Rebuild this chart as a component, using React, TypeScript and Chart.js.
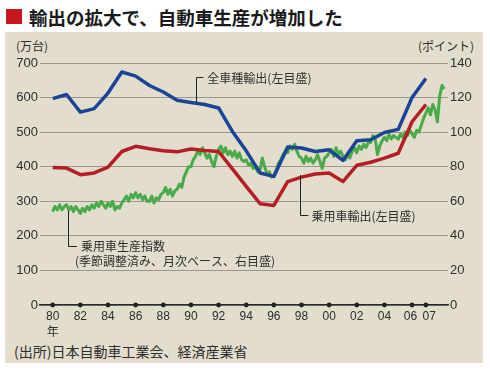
import React, { useEffect, useRef } from "react";
import { Chart, registerables } from "chart.js";

Chart.register(...registerables);

// ---- data ----
const years = [
  1980, 1981, 1982, 1983, 1984, 1985, 1986, 1987, 1988, 1989,
  1990, 1991, 1992, 1993, 1994, 1995, 1996, 1997, 1998, 1999,
  2000, 2001, 2002, 2003, 2004, 2005, 2006, 2007,
];
// 全車種輸出 (万台, left axis)
const allVehicleExports = [
  597, 609, 558, 568, 613, 674, 662, 635, 616, 592,
  586, 580, 570, 502, 446, 382, 372, 457, 454, 444,
  449, 418, 475, 478, 499, 508, 600, 655,
];
// 乗用車輸出 (万台, left axis)
const passengerCarExports = [
  398, 396, 377, 382, 399, 444, 459, 452, 446, 443,
  451, 447, 444, 394, 343, 293, 288, 357, 370, 379,
  382, 357, 404, 413, 425, 439, 530, 580,
];
// 乗用車生産指数 (right axis), six readings per year from 1980
const productionIndexStart = 1980;
const productionIndexPerYear = 6;
const productionIndex = [
  54, 57, 55, 58, 55, 57, // 1980
  58, 55, 57, 54, 57, 55, // 1981
  53, 56, 54, 57, 55, 58, // 1982
  56, 59, 57, 60, 58, 56, // 1983
  59, 57, 60, 55, 57, 56, // 1984
  59, 61, 63, 60, 64, 62, // 1985
  65, 62, 64, 61, 63, 60, // 1986
  60, 63, 59, 62, 61, 64, // 1987
  65, 68, 64, 67, 63, 66, // 1988
  67, 70, 68, 74, 77, 80, // 1989
  80, 84, 86, 89, 87, 91, // 1990
  88, 85, 87, 83, 80, 86, // 1991
  90, 92, 88, 91, 87, 89, // 1992
  86, 89, 85, 88, 84, 83, // 1993
  84, 81, 82, 79, 80, 77, // 1994
  78, 85, 80, 76, 77, 74, // 1995
  75, 78, 82, 84, 87, 89, // 1996
  88, 92, 90, 93, 89, 86, // 1997
  85, 82, 86, 83, 85, 82, // 1998
  84, 87, 83, 79, 85, 86, // 1999
  88, 90, 86, 91, 87, 89, // 2000
  86, 84, 87, 85, 89, 91, // 2001
  88, 92, 90, 93, 91, 94, // 2002
  94, 98, 96, 87, 92, 95, // 2003
  97, 95, 99, 96, 98, 97, // 2004
  96, 99, 97, 100, 98, 101, // 2005
  99, 97, 101, 100, 104, 108, // 2006
  111, 114, 110, 116, 113, 106, // 2007
  121, 127, 125, // 2008
];
const xTickYears = [
  1980, 1982, 1984, 1986, 1988, 1990, 1992, 1994, 1996, 1998,
  2000, 2002, 2004, 2006, 2007,
];
const leftAxisMax = 700;
const leftAxisStep = 100;
const rightAxisMax = 140;
const rightAxisStep = 20;

// ---- texts ----
const titleText = "輸出の拡大で、自動車生産が増加した";
const leftUnit = "(万台)";
const rightUnit = "(ポイント)";
const sourceText = "(出所)日本自動車工業会、経済産業省";
const yearSuffix = "年";
const labelAll = "全車種輸出(左目盛)";
const labelCar = "乗用車輸出(左目盛)";
const labelProd1 = "乗用車生産指数";
const labelProd2 = "(季節調整済み、月次ベース、右目盛)";

// ---- styles ----
const BLUE = "rgb(28,68,150)";
const RED = "rgb(182,30,38)";
const GREEN = "rgb(72,170,72)";
const PANEL = "rgb(227,221,205)";
const TEXT = "#2e2e2e";
const CJK = '"Noto Sans CJK JP", "Noto Sans", sans-serif';
const NUM = '"Liberation Sans", Arial, sans-serif';

const annotationPlugin = {
  id: "callouts",
  afterDatasetsDraw(chart: any) {
    const { ctx } = chart;
    const x = chart.scales.x;
    const y = chart.scales.y;
    const px = (v: number) => x.getPixelForValue(v);
    const py = (v: number) => y.getPixelForValue(v);
    ctx.save();
    ctx.strokeStyle = "#222";
    ctx.lineWidth = 1;
    ctx.fillStyle = TEXT;
    ctx.font = `12px ${CJK}`;
    ctx.textBaseline = "middle";
    ctx.textAlign = "left";

    const leader = (xv: number, y0: number, y1: number, x1: number) => {
      const X = Math.round(px(xv)) + 0.5;
      const Y1 = Math.round(py(y1)) + 0.5;
      ctx.beginPath();
      ctx.moveTo(X, py(y0));
      ctx.lineTo(X, Y1);
      ctx.lineTo(px(x1), Y1);
      ctx.stroke();
      return Y1;
    };

    // 全車種輸出
    let ly = leader(1990.35, 587, 659, 1990.9);
    ctx.fillText(labelAll, px(1990.9) + 4, ly + 0.5);

    // 乗用車輸出
    ly = leader(1997.9, 376, 259, 1998.5);
    ctx.fillText(labelCar, px(1998.5) + 3, ly + 0.5);

    // 乗用車生産指数
    ly = leader(1981.13, 272, 170, 1981.75);
    ctx.fillText(labelProd1, px(1981.75) + 4, ly);
    ctx.fillText(labelProd2, px(1981.75) - 2, ly + 14.5);

    ctx.restore();
  },
  afterDraw(chart: any) {
    const { ctx, chartArea } = chart;
    const x = chart.scales.x;
    ctx.save();
    ctx.fillStyle = "#222";
    xTickYears.forEach((v) => {
      ctx.beginPath();
      ctx.arc(x.getPixelForValue(v), chartArea.bottom, 2.4, 0, Math.PI * 2);
      ctx.fill();
    });
    ctx.restore();
  },
};

function ChartCanvas() {
  const ref = useRef<HTMLCanvasElement | null>(null);
  useEffect(() => {
    if (!ref.current) return;
    const chart = new Chart(ref.current, {
      type: "line",
      data: {
        datasets: [
          {
            label: "全車種輸出",
            data: years.map((yr, i) => ({ x: yr, y: allVehicleExports[i] })),
            borderColor: BLUE,
            borderWidth: 3.5,
            pointRadius: 0,
            yAxisID: "y",
            order: 1,
            borderJoinStyle: "round",
          },
          {
            label: "乗用車輸出",
            data: years.map((yr, i) => ({ x: yr, y: passengerCarExports[i] })),
            borderColor: RED,
            borderWidth: 3.5,
            pointRadius: 0,
            yAxisID: "y",
            order: 2,
            borderJoinStyle: "round",
          },
          {
            label: "乗用車生産指数",
            data: productionIndex.map((v, i) => ({
              x: productionIndexStart + i / productionIndexPerYear,
              y: v,
            })),
            borderColor: GREEN,
            borderWidth: 3,
            pointRadius: 0,
            yAxisID: "y1",
            order: 3,
            borderJoinStyle: "round",
          },
        ],
      },
      options: {
        responsive: false,
        animation: false,
        layout: { padding: { top: 63, left: 0, right: 0, bottom: 0 } },
        plugins: { legend: { display: false }, tooltip: { enabled: false } },
        scales: {
          x: {
            type: "linear",
            min: 1979.08,
            max: 2008.6,
            grid: { display: false, drawTicks: false },
            border: { display: true, color: "#2a2a2a", width: 1.5 },
            afterBuildTicks: (s: any) => {
              s.ticks = xTickYears.map((v) => ({ value: v }));
            },
            afterFit: (s: any) => {
              s.height = 69;
            },
            ticks: {
              autoSkip: false,
              maxRotation: 0,
              padding: 4,
              color: TEXT,
              font: { family: `${NUM}, ${CJK}`, size: 12, lineHeight: 1.3 },
              callback: (v: any, i: number) => {
                const s = String(Number(v) % 100).padStart(2, "0");
                if (i === 0) return [s, yearSuffix];
                // the last two ticks sit close together: nudge their labels apart
                if (i === xTickYears.length - 2) return s + " ";
                if (i === xTickYears.length - 1) return "  " + s;
                return s;
              },
            },
          },
          y: {
            position: "left",
            min: 0,
            max: leftAxisMax,
            grid: { color: "#9a978f", lineWidth: 1, drawTicks: false },
            border: { display: false },
            afterFit: (s: any) => {
              s.width = 40;
            },
            ticks: {
              stepSize: leftAxisStep,
              padding: 2,
              color: TEXT,
              font: { family: NUM, size: 13 },
            },
          },
          y1: {
            position: "right",
            min: 0,
            max: rightAxisMax,
            grid: { display: false, drawTicks: false },
            border: { display: false },
            afterFit: (s: any) => {
              s.width = 42;
            },
            ticks: {
              stepSize: rightAxisStep,
              padding: 2,
              color: TEXT,
              font: { family: NUM, size: 13 },
            },
          },
        },
      } as any,
      plugins: [annotationPlugin],
    });
    return () => chart.destroy();
  }, []);
  return (
    <canvas
      ref={ref}
      width={490}
      height={374}
      style={{ position: "absolute", left: 0, top: 0, width: 490, height: 374 }}
    />
  );
}

export default function App() {
  return (
    <div
      style={{
        position: "absolute",
        left: 0,
        top: 0,
        width: 490,
        height: 374,
        background: "#fff",
        overflow: "hidden",
        fontFamily: CJK,
        color: TEXT,
      }}
    >
      <div
        style={{
          position: "absolute",
          left: 5,
          top: 32,
          width: 478,
          height: 331,
          background: PANEL,
        }}
      />
      <div
        style={{
          position: "absolute",
          left: 6,
          top: 9,
          width: 16,
          height: 15,
          background: "rgb(200,22,30)",
        }}
      />
      <div
        style={{
          position: "absolute",
          left: 29,
          top: 7,
          fontSize: 18.5,
          lineHeight: "20px",
          fontWeight: 700,
          color: "#1a1a1a",
          whiteSpace: "nowrap",
        }}
      >
        {titleText}
      </div>
      <div
        style={{
          position: "absolute",
          left: 16,
          top: 39,
          fontSize: 12,
          lineHeight: "14px",
          whiteSpace: "nowrap",
        }}
      >
        {leftUnit}
      </div>
      <div
        style={{
          position: "absolute",
          right: 490 - 474,
          top: 39,
          fontSize: 12,
          lineHeight: "14px",
          whiteSpace: "nowrap",
        }}
      >
        {rightUnit}
      </div>
      <div
        style={{
          position: "absolute",
          left: 14,
          top: 343,
          fontSize: 14,
          lineHeight: "16px",
          whiteSpace: "nowrap",
        }}
      >
        {sourceText}
      </div>
      <ChartCanvas />
    </div>
  );
}
